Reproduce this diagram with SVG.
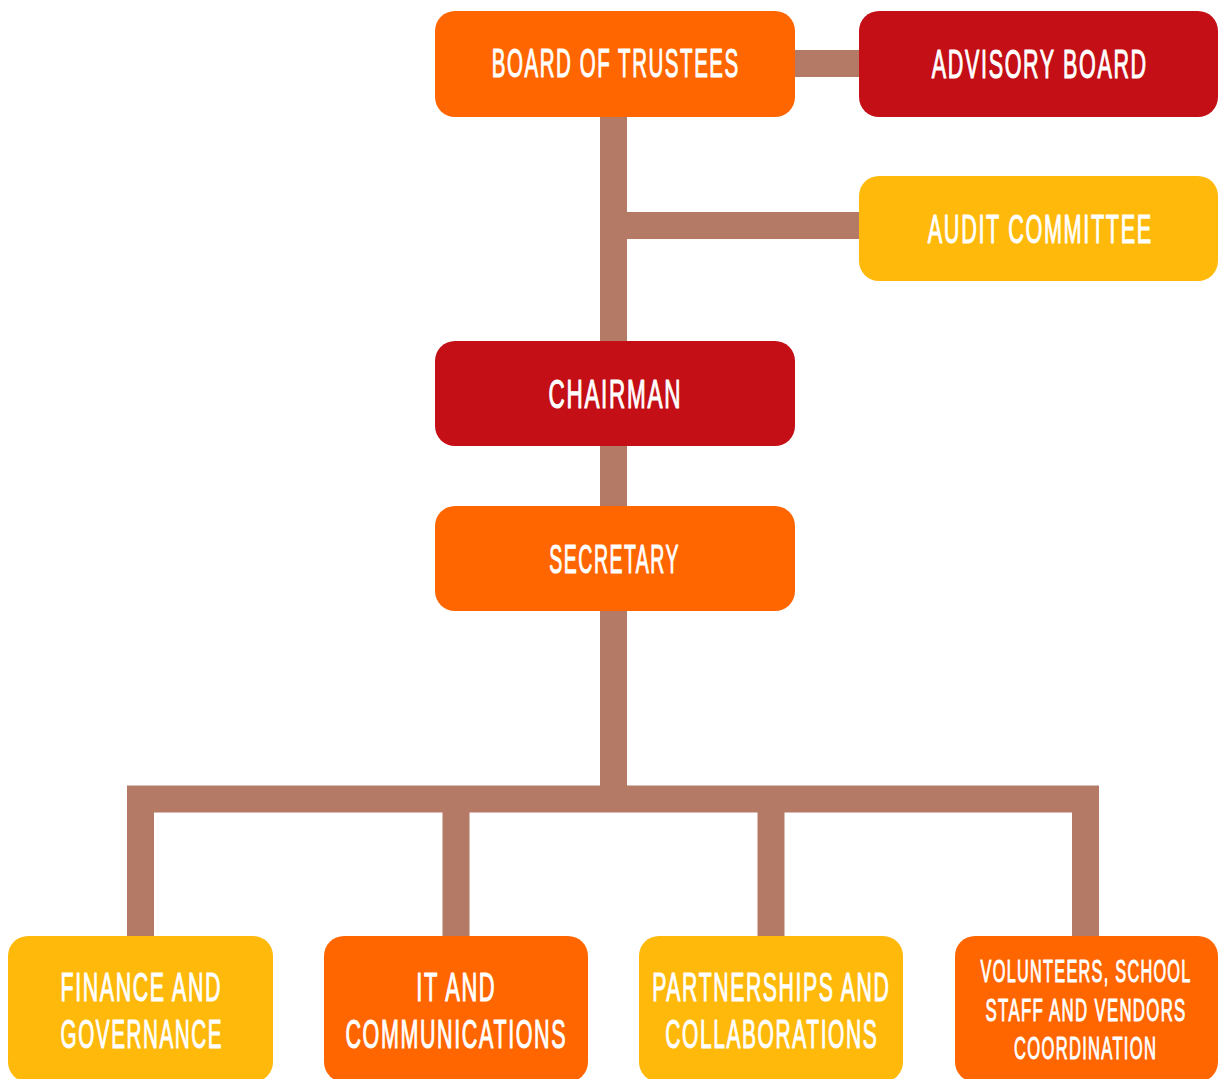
<svg xmlns="http://www.w3.org/2000/svg" width="1218" height="1079" viewBox="0 0 1218 1079">
  <style>
    .conn { fill: none; stroke: #B57A65; stroke-width: 27; stroke-linejoin: miter; stroke-linecap: butt; }
    .orange { fill: #FF6600; }
    .red { fill: #C40F16; }
    .yellow { fill: #FEB90A; }
    .lbl { fill: #FFFFFF; stroke: #FFFFFF; stroke-width: 1.1; stroke-linejoin: round; font-family: "Liberation Sans", Arial, sans-serif; font-size: 40px; letter-spacing: 3px; text-anchor: middle; }
    .sm { font-size: 31px; stroke-width: 1; letter-spacing: 2.4px; }
  </style>
  <rect width="1218" height="1079" fill="#FFFFFF"/>
  <g id="connectors">
    <path class="conn" d="M613.5 117 V799"/>
    <path class="conn" d="M795 63.5 H859"/>
    <path class="conn" d="M613.5 225.5 H859"/>
    <path class="conn" d="M140.5 936 V799 H1085.5 V936"/>
    <path class="conn" d="M456 799 V936"/>
    <path class="conn" d="M771 799 V936"/>
  </g>
  <g id="board">
    <rect class="orange" x="435" y="11" width="360" height="106" rx="20"/>
    <text class="lbl" transform="translate(615.8 77) scale(0.513 1)">BOARD OF TRUSTEES</text>
  </g>
  <g id="advisory">
    <rect class="red" x="859" y="11" width="359" height="106" rx="20"/>
    <text class="lbl" transform="translate(1039.8 78) scale(0.539 1)">ADVISORY BOARD</text>
  </g>
  <g id="audit">
    <rect class="yellow" x="859" y="176" width="359" height="105" rx="20"/>
    <text class="lbl" transform="translate(1040.3 243) scale(0.542 1)">AUDIT COMMITTEE</text>
  </g>
  <g id="chairman">
    <rect class="red" x="435" y="341" width="360" height="105" rx="20"/>
    <text class="lbl" transform="translate(615.3 408) scale(0.563 1)">CHAIRMAN</text>
  </g>
  <g id="secretary">
    <rect class="orange" x="435" y="506" width="360" height="105" rx="20"/>
    <text class="lbl" transform="translate(614.7 573) scale(0.488 1)">SECRETARY</text>
  </g>
  <g id="finance">
    <rect class="yellow" x="8" y="936" width="265" height="146" rx="20"/>
    <text class="lbl" transform="translate(141.3 1001) scale(0.535 1)">FINANCE AND</text>
    <text class="lbl" transform="translate(141.8 1048) scale(0.517 1)">GOVERNANCE</text>
  </g>
  <g id="it">
    <rect class="orange" x="324" y="936" width="264" height="146" rx="20"/>
    <text class="lbl" transform="translate(456.3 1001) scale(0.548 1)">IT AND</text>
    <text class="lbl" transform="translate(456.3 1048) scale(0.538 1)">COMMUNICATIONS</text>
  </g>
  <g id="partnerships">
    <rect class="yellow" x="639" y="936" width="264" height="146" rx="20"/>
    <text class="lbl" transform="translate(771.3 1001) scale(0.531 1)">PARTNERSHIPS AND</text>
    <text class="lbl" transform="translate(771.8 1048) scale(0.525 1)">COLLABORATIONS</text>
  </g>
  <g id="volunteers">
    <rect class="orange" x="955" y="936" width="263" height="146" rx="20"/>
    <text class="lbl sm" transform="translate(1086.1 982) scale(0.526 1)">VOLUNTEERS, SCHOOL</text>
    <text class="lbl sm" transform="translate(1086.1 1021) scale(0.542 1)">STAFF AND VENDORS</text>
    <text class="lbl sm" transform="translate(1085.6 1059) scale(0.535 1)">COORDINATION</text>
  </g>
</svg>
